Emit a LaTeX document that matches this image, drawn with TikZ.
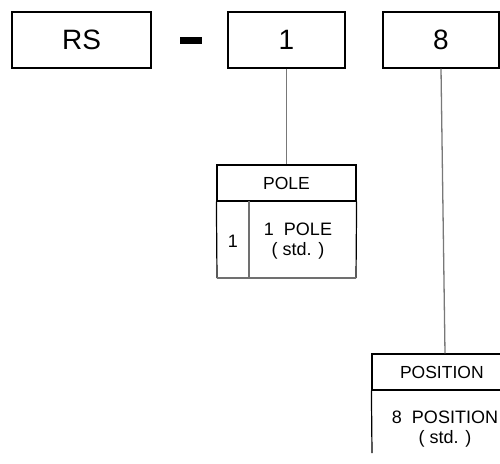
\documentclass[tikz,border=0pt]{standalone}
\usepackage{fontspec}
\setmainfont{Liberation Sans}
\definecolor{conn}{HTML}{787878}
\definecolor{inner}{HTML}{707070}
\tikzset{
  bigbox/.style={draw=black, line width=1.2pt, minimum height=56pt, inner sep=0pt,
    font=\fontsize{28}{32}\selectfont},
  hdr/.style={draw=black, line width=1.2pt, minimum height=36pt, inner sep=0pt,
    font=\fontsize{17.5}{20}\selectfont},
  cell/.style={inner sep=0pt, font=\fontsize{18}{20}\selectfont, align=center},
  connector/.style={draw=conn, line width=1.3pt},
  innerline/.style={draw=inner, line width=1.2pt},
  outerline/.style={draw=black, line width=1.2pt}
}
\begin{document}
\begin{tikzpicture}[x=1pt,y=-1pt]
\useasboundingbox (0,0) rectangle (500,463);
\clip (0,0) rectangle (500,463);
% top code boxes
\node[bigbox, minimum width=139pt] (rs) at (81.5,40) {RS};
\node[fill=black, minimum width=22pt, minimum height=7pt, inner sep=0pt] (dash) at (190.5,40) {};
\node[bigbox, minimum width=117pt] (one) at (286.5,40) {1};
\node[bigbox, minimum width=116pt] (eight) at (441,40) {8};
% POLE table
\node[hdr, minimum width=139pt] (pole) at (286.5,183) {POLE};
\coordinate (polebl) at (217,278);
\coordinate (polebr) at (356,278);
\coordinate (poledivt) at (249,201);
\coordinate (poledivb) at (249,278);
\draw[outerline] (pole.south west) -- (polebl);
\draw[outerline] (pole.south east) -- (polebr);
\draw[innerline] (polebl) -- (polebr);
\draw[innerline] (poledivt) -- (poledivb);
\node[cell, anchor=base] (polecode) at (233,247) {1};
\node[cell, anchor=base] (poledesc) at (298,255) {1\ \ POLE\\( std. )};
% POSITION table
\node[hdr, minimum width=146pt, text width=140pt, align=left] (position) at (445,372) {\hspace*{25pt}POSITION};
\coordinate (posbl) at (372,453);
\coordinate (posbr) at (518,453);
\draw[outerline] (position.south west) -- (posbl);
\draw[outerline] (position.south east) -- (posbr);
\node[cell, anchor=base] (posdesc) at (445,443) {8\ \ POSITION\\( std. )};
% connectors
\draw[connector] (one.south) -- (pole.north);
\draw[connector] (eight.south) -- (position.north);
\end{tikzpicture}
\end{document}
